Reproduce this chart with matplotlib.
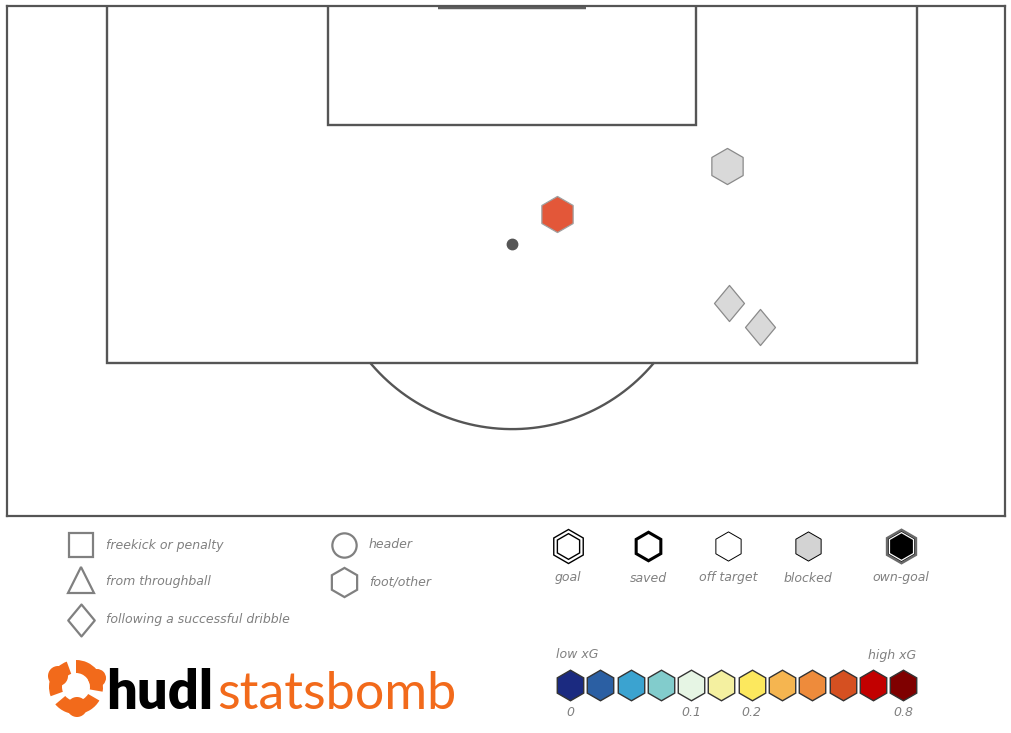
import numpy as np
import matplotlib
matplotlib.use("Agg")
import matplotlib.pyplot as plt
from matplotlib.path import Path
from matplotlib.patches import Wedge, Circle
from matplotlib.colors import LinearSegmentedColormap, to_hex

# ---------------- data ----------------
shot_x = [42.46, 51.68, 51.79, 53.48]          # across pitch (StatsBomb y)
shot_y = [109.52, 111.94, 105.02, 103.84]      # along pitch (StatsBomb x)
shot_type = ["foot/other", "foot/other", "following a successful dribble", "following a successful dribble"]
shot_outcome = ["off target", "blocked", "blocked", "blocked"]
shot_xg = [0.45, 0.05, 0.04, 0.03]

type_labels = ["freekick or penalty", "from throughball", "following a successful dribble", "header", "foot/other"]
outcome_labels = ["goal", "saved", "off target", "blocked", "own-goal"]

xg_levels = [0.0, 0.025, 0.05, 0.075, 0.1, 0.15, 0.2, 0.3, 0.4, 0.5, 0.65, 0.8]
xg_colors = ["#1b2a80", "#2b5fa3", "#3ba3d0", "#82cccc", "#e6f5e4", "#f4f0a0",
             "#fce85e", "#f5b550", "#ee8b3b", "#d55021", "#c20000", "#7f0000"]
xg_tick_labels = {0: "0", 4: "0.1", 6: "0.2", 11: "0.8"}
# continuous scale used for shots: legend anchors plus one intermediate anchor
cmap_levels = xg_levels[:9] + [0.45] + xg_levels[9:]
cmap_colors = xg_colors[:9] + ["#e4573a"] + xg_colors[9:]

# ---------------- style ----------------
LINE = "#555555"
GREY_TXT = "#808080"
plt.rcParams["font.family"] = ["DejaVu Sans"]

diamond = Path([(0, 1), (0.83, 0), (0, -1), (-0.83, 0), (0, 1)],
               [Path.MOVETO, Path.LINETO, Path.LINETO, Path.LINETO, Path.CLOSEPOLY])
type_marker = {"freekick or penalty": "s", "from throughball": "^",
               "following a successful dribble": diamond, "header": "o", "foot/other": "h"}

cmap = LinearSegmentedColormap.from_list(
    "xg", list(zip(np.array(cmap_levels) / cmap_levels[-1], cmap_colors)))

fig = plt.figure(figsize=(10.12, 7.33), dpi=100)
fig.patch.set_facecolor("white")

# ---------------- pitch ----------------
W, H = 1012, 733
ax = fig.add_axes([7 / W, (H - 516) / H, 998 / W, 510 / H])
ax.set_xlim(12.55, 66.79)
ax.set_ylim(120 - 510 / 19.85, 120)
ax.set_xticks([]); ax.set_yticks([])
for s in ax.spines.values():
    s.set_color(LINE); s.set_linewidth(1.6)

lw = 1.7
# penalty box
ax.plot([18, 18, 62, 62], [120, 102, 102, 120], color=LINE, lw=lw, solid_joinstyle="miter")
# six yard box
ax.plot([30, 30, 50, 50], [120, 114, 114, 120], color=LINE, lw=lw, solid_joinstyle="miter")
# goal
ax.plot([36, 44], [119.95, 119.95], color="#606060", lw=3.2, solid_capstyle="butt")
# penalty spot
ax.plot([40], [108], "o", color=LINE, ms=7.5, mec=LINE)
# D arc (circle in screen space)
t = np.linspace(0, np.pi, 400)
arc_x = 40 + 10.05 * np.cos(t)
arc_y = 108 - 10.05 * (18.4 / 19.85) * np.sin(t)
m = arc_y <= 102
ax.plot(arc_x[m], arc_y[m], color=LINE, lw=lw)

# shots
for x, y, tp, oc, xg in zip(shot_x, shot_y, shot_type, shot_outcome, shot_xg):
    if oc == "blocked":
        fc, ec, elw = "#d9d9d9", "#8a8a8a", 0.9
    else:
        fc, ec, elw = to_hex(cmap(xg / cmap_levels[-1])), "#a0a0a0", 0.9
    ax.scatter([x], [y], marker=type_marker[tp], s=26 ** 2, facecolor=fc,
               edgecolor=ec, linewidth=elw, zorder=5)

# ---------------- legend overlay (pixel coords) ----------------
lg = fig.add_axes([0, 0, 1, 1], zorder=-1)
lg.set_xlim(0, W); lg.set_ylim(H, 0); lg.axis("off")

txt_kw = dict(color=GREY_TXT, style="italic", fontsize=9.0, va="center")

# shot-type legend
type_pos = [(81, 545), (81, 580), (81, 620), (344, 545), (344, 582)]
type_ms = [17.5, 19, 23, 17.5, 21]
for lab, (px, py), ms in zip(type_labels, type_pos, type_ms):
    lg.plot([px], [py], marker=type_marker[lab], ms=ms, mfc="none", mec="#808080", mew=1.6)
    lg.text(px + 25, py + (1 if lab == "from throughball" else 0), lab, ha="left", **txt_kw)

# outcome legend
out_x = [568, 648, 728, 808, 901]
oy = 546
for lab, px in zip(outcome_labels, out_x):
    if lab == "goal":
        lg.plot([px], [oy], "h", ms=24.5, mfc="white", mec="black", mew=1.0)
        lg.plot([px], [oy], "h", ms=18.5, mfc="white", mec="black", mew=1.0)
    elif lab == "saved":
        lg.plot([px], [oy], "h", ms=20.5, mfc="white", mec="black", mew=2.2)
    elif lab == "off target":
        lg.plot([px], [oy], "h", ms=21, mfc="white", mec="black", mew=0.7)
    elif lab == "blocked":
        lg.plot([px], [oy], "h", ms=21, mfc="#d3d3d3", mec="black", mew=0.7)
    else:
        lg.plot([px], [oy], "h", ms=24, mfc="black", mec="#6a6a6a", mew=1.8)
        lg.plot([px], [oy], "h", ms=20, mfc="black", mec="white", mew=0.9)
    lg.text(px, 578, lab, ha="center", **txt_kw)

# xG scale
x0, dx, hy = 570, 30.3, 685
for i, c in enumerate(xg_colors):
    lg.plot([x0 + i * dx], [hy], "h", ms=22, mfc=c, mec="#333333", mew=1.0)
for i, lab in xg_tick_labels.items():
    lg.text(x0 + i * dx, 712, lab, ha="center", **txt_kw)
lg.text(556, 655, "low xG", ha="left", **txt_kw)
lg.text(916, 655, "high xG", ha="right", **txt_kw)

# ---------------- logo ----------------
ORANGE = "#f26a1b"
cx, cy = 76, 687
for a0, a1 in ((30, 140), (160, 250), (270, 370)):
    lg.add_patch(Wedge((cx, cy), 27, a0, a1, width=13, color=ORANGE, lw=0))
for bx, by, r in ((58, 676, 10), (97, 678, 9), (77, 707, 10)):
    lg.add_patch(Circle((bx, by), r, color=ORANGE, lw=0))
lg.text(106, 709, "hudl", ha="left", va="baseline", fontsize=39, fontweight="heavy",
        color="black", family=["Lato", "DejaVu Sans"])
lg.text(217, 709, "statsbomb", ha="left", va="baseline", fontsize=37.5, fontweight="normal",
        color=ORANGE, family=["Lato", "DejaVu Sans"])

fig.savefig("out.png", dpi=100)
